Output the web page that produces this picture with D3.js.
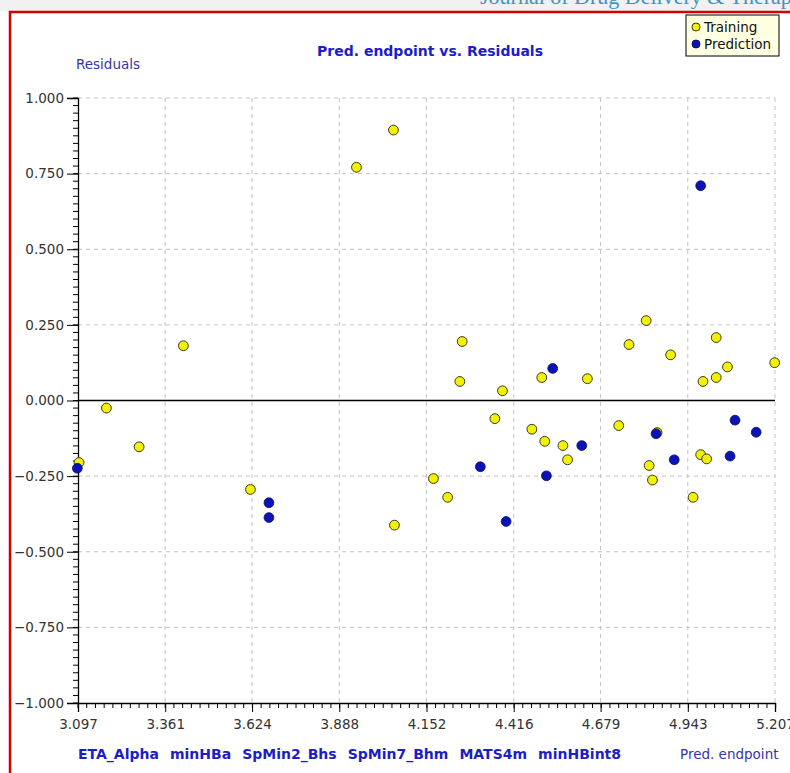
<!DOCTYPE html>
<html>
<head>
<meta charset="utf-8">
<script src="https://cdn.jsdelivr.net/npm/d3@7"></script>
<style>
  body { margin: 0; background: #fff; }
  svg { display: block; }
</style>
</head>
<body>
<div id="chart"></div>
<script>
// training set: [pred. endpoint, residual]
var training = [
    [3.100, -0.205], [3.183, -0.025], [3.282, -0.153], [3.416, 0.181],
    [3.619, -0.294], [3.940, 0.771], [4.052, 0.894], [4.055, -0.412],
    [4.173, -0.258], [4.216, -0.320], [4.260, 0.195], [4.253, 0.063],
    [4.359, -0.060], [4.382, 0.032], [4.471, -0.095], [4.501, 0.076],
    [4.510, -0.135], [4.565, -0.149], [4.579, -0.196], [4.639, 0.072],
    [4.734, -0.083], [4.765, 0.185], [4.817, 0.264], [4.826, -0.215],
    [4.836, -0.263], [4.850, -0.106], [4.891, 0.151], [4.959, -0.320],
    [4.982, -0.179], [5.000, -0.193], [4.989, 0.063], [5.029, 0.076],
    [5.029, 0.208], [5.063, 0.111], [5.206, 0.125]
];
// prediction set
var prediction = [
    [3.095, -0.224], [3.675, -0.338], [3.675, -0.387], [4.315, -0.219],
    [4.393, -0.400], [4.515, -0.249], [4.534, 0.106], [4.622, -0.149],
    [4.847, -0.110], [4.902, -0.196], [4.982, 0.710], [5.071, -0.184],
    [5.086, -0.065], [5.150, -0.105]
];
var xTicks = [3.097, 3.361, 3.624, 3.888, 4.152, 4.416, 4.679, 4.943, 5.207];
var yTicks = [-1, -0.75, -0.5, -0.25, 0, 0.25, 0.5, 0.75, 1];
var descriptors = ["ETA_Alpha", "minHBa", "SpMin2_Bhs", "SpMin7_Bhm", "MATS4m", "minHBint8"];
var legendItems = ["Training", "Prediction"];

var width = 790, height = 773;
var margin = { left: 78, right: 15, top: 98, bottom: 70 };
var blueText = "#1c1cc8";
var fillTrain = "#f2f200", fillPred = "#0a14b4";

var svg = d3.select("#chart").append("svg")
    .attr("width", width)
    .attr("height", height)
    .style("font-family", "'DejaVu Sans', Verdana, sans-serif");

// page frame: grey strip, journal header, red border
svg.append("rect").attr("x", 0).attr("y", 0).attr("width", width).attr("height", 11).attr("fill", "#f1f1f1");
svg.append("text")
    .attr("x", 480).attr("y", 4)
    .style("font-family", "'Liberation Serif', serif")
    .style("font-size", "22px")
    .attr("fill", "#3f93bd")
    .text("Journal of Drug Delivery & Therapeutics");
svg.append("path")
    .attr("d", "M10," + height + " V12 H" + width)
    .attr("fill", "none")
    .attr("stroke", "#d40000")
    .attr("stroke-width", 2.5);

var x = d3.scaleLinear().domain([3.097, 5.207]).range([margin.left, width - margin.right]);
var y = d3.scaleLinear().domain([-1, 1]).range([height - margin.bottom, margin.top]);

// grid
var grid = svg.append("g").attr("stroke", "#c4c4c4").attr("stroke-dasharray", "4,4");
grid.selectAll("line.v").data(xTicks.slice(1)).enter().append("line")
    .attr("x1", function(d) { return x(d); }).attr("x2", function(d) { return x(d); })
    .attr("y1", y(1)).attr("y2", y(-1));
grid.selectAll("line.h").data(yTicks.filter(function(d) { return d !== -1 && d !== 0; })).enter().append("line")
    .attr("y1", function(d) { return y(d); }).attr("y2", function(d) { return y(d); })
    .attr("x1", x.range()[0]).attr("x2", x.range()[1]);

// zero line
svg.append("line")
    .attr("x1", x.range()[0]).attr("x2", x.range()[1])
    .attr("y1", y(0)).attr("y2", y(0))
    .attr("stroke", "#000").attr("stroke-width", 1.3);

// minor ticks (10 per interval)
var xStep = (xTicks[1] - xTicks[0]) / 10;
var xMinor = d3.range(0, 81).map(function(i) { return xTicks[0] + i * xStep; });
var yMinor = d3.range(-1, 1.0001, 0.025);

var xAxis = d3.axisBottom(x).tickValues(xTicks).tickFormat(d3.format(".3f")).tickSize(9).tickPadding(7);
var yAxis = d3.axisLeft(y).tickValues(yTicks).tickFormat(d3.format(".3f")).tickSize(11).tickPadding(3);

svg.append("g")
    .attr("transform", "translate(0," + y(-1) + ")")
    .selectAll("line").data(xMinor).enter().append("line")
    .attr("x1", function(d) { return x(d); }).attr("x2", function(d) { return x(d); })
    .attr("y1", 0).attr("y2", 5).attr("stroke", "#000");
svg.append("g")
    .attr("transform", "translate(" + x(3.097) + ",0)")
    .selectAll("line").data(yMinor).enter().append("line")
    .attr("y1", function(d) { return y(d); }).attr("y2", function(d) { return y(d); })
    .attr("x1", 0).attr("x2", -5).attr("stroke", "#000");

var gx = svg.append("g")
    .attr("transform", "translate(0," + y(-1) + ")")
    .call(xAxis);
var gy = svg.append("g")
    .attr("transform", "translate(" + x(3.097) + ",0)")
    .call(yAxis);
[gx, gy].forEach(function(g) {
    g.select(".domain").attr("stroke", "#000").attr("stroke-width", 1.3);
    g.selectAll(".tick line").attr("stroke", "#000");
    g.selectAll(".tick text")
        .style("font-family", "'DejaVu Sans', Verdana, sans-serif")
        .style("font-size", "13.5px")
        .attr("fill", "#333");
});

// points
svg.append("g").selectAll("circle").data(training).enter().append("circle")
    .attr("cx", function(d) { return x(d[0]); })
    .attr("cy", function(d) { return y(d[1]); })
    .attr("r", 4.9)
    .attr("fill", fillTrain)
    .attr("stroke", "#3a3a20")
    .attr("stroke-width", 1);
svg.append("g").selectAll("circle").data(prediction).enter().append("circle")
    .attr("cx", function(d) { return x(d[0]); })
    .attr("cy", function(d) { return y(d[1]); })
    .attr("r", 4.9)
    .attr("fill", fillPred)
    .attr("stroke", "#0a0a70")
    .attr("stroke-width", 0.8);

// titles
svg.append("text")
    .attr("x", 430).attr("y", 56)
    .attr("text-anchor", "middle")
    .style("font-size", "14px").style("font-weight", "bold")
    .attr("fill", blueText)
    .text("Pred. endpoint vs. Residuals");
svg.append("text")
    .attr("x", 76).attr("y", 69)
    .style("font-size", "13.5px")
    .attr("fill", "#3535a8")
    .text("Residuals");
svg.append("text")
    .attr("x", 680).attr("y", 759)
    .style("font-size", "13.5px")
    .attr("fill", "#3535a8")
    .text("Pred. endpoint");

// descriptor names along the bottom
var dx = 78;
descriptors.forEach(function(name) {
    var t = svg.append("text")
        .attr("x", dx).attr("y", 759)
        .style("font-size", "14px").style("font-weight", "bold")
        .attr("fill", blueText)
        .text(name);
    dx += t.node().getComputedTextLength() + 11;
});

// legend
var lg = svg.append("g").attr("transform", "translate(686,15)");
lg.append("rect").attr("width", 93).attr("height", 41)
    .attr("fill", "#ffffe1").attr("stroke", "#000").attr("stroke-width", 1);
lg.selectAll("circle").data(legendItems).enter().append("circle")
    .attr("cx", 10).attr("cy", function(d, i) { return 12 + i * 17; })
    .attr("r", 4)
    .attr("fill", function(d, i) { return i ? fillPred : fillTrain; })
    .attr("stroke", function(d, i) { return i ? "#0a0a70" : "#3a3a20"; });
lg.selectAll("text").data(legendItems).enter().append("text")
    .attr("x", 18).attr("y", function(d, i) { return 17 + i * 17; })
    .style("font-size", "13.5px")
    .attr("fill", "#111")
    .text(function(d) { return d; });
</script>
</body>
</html>
